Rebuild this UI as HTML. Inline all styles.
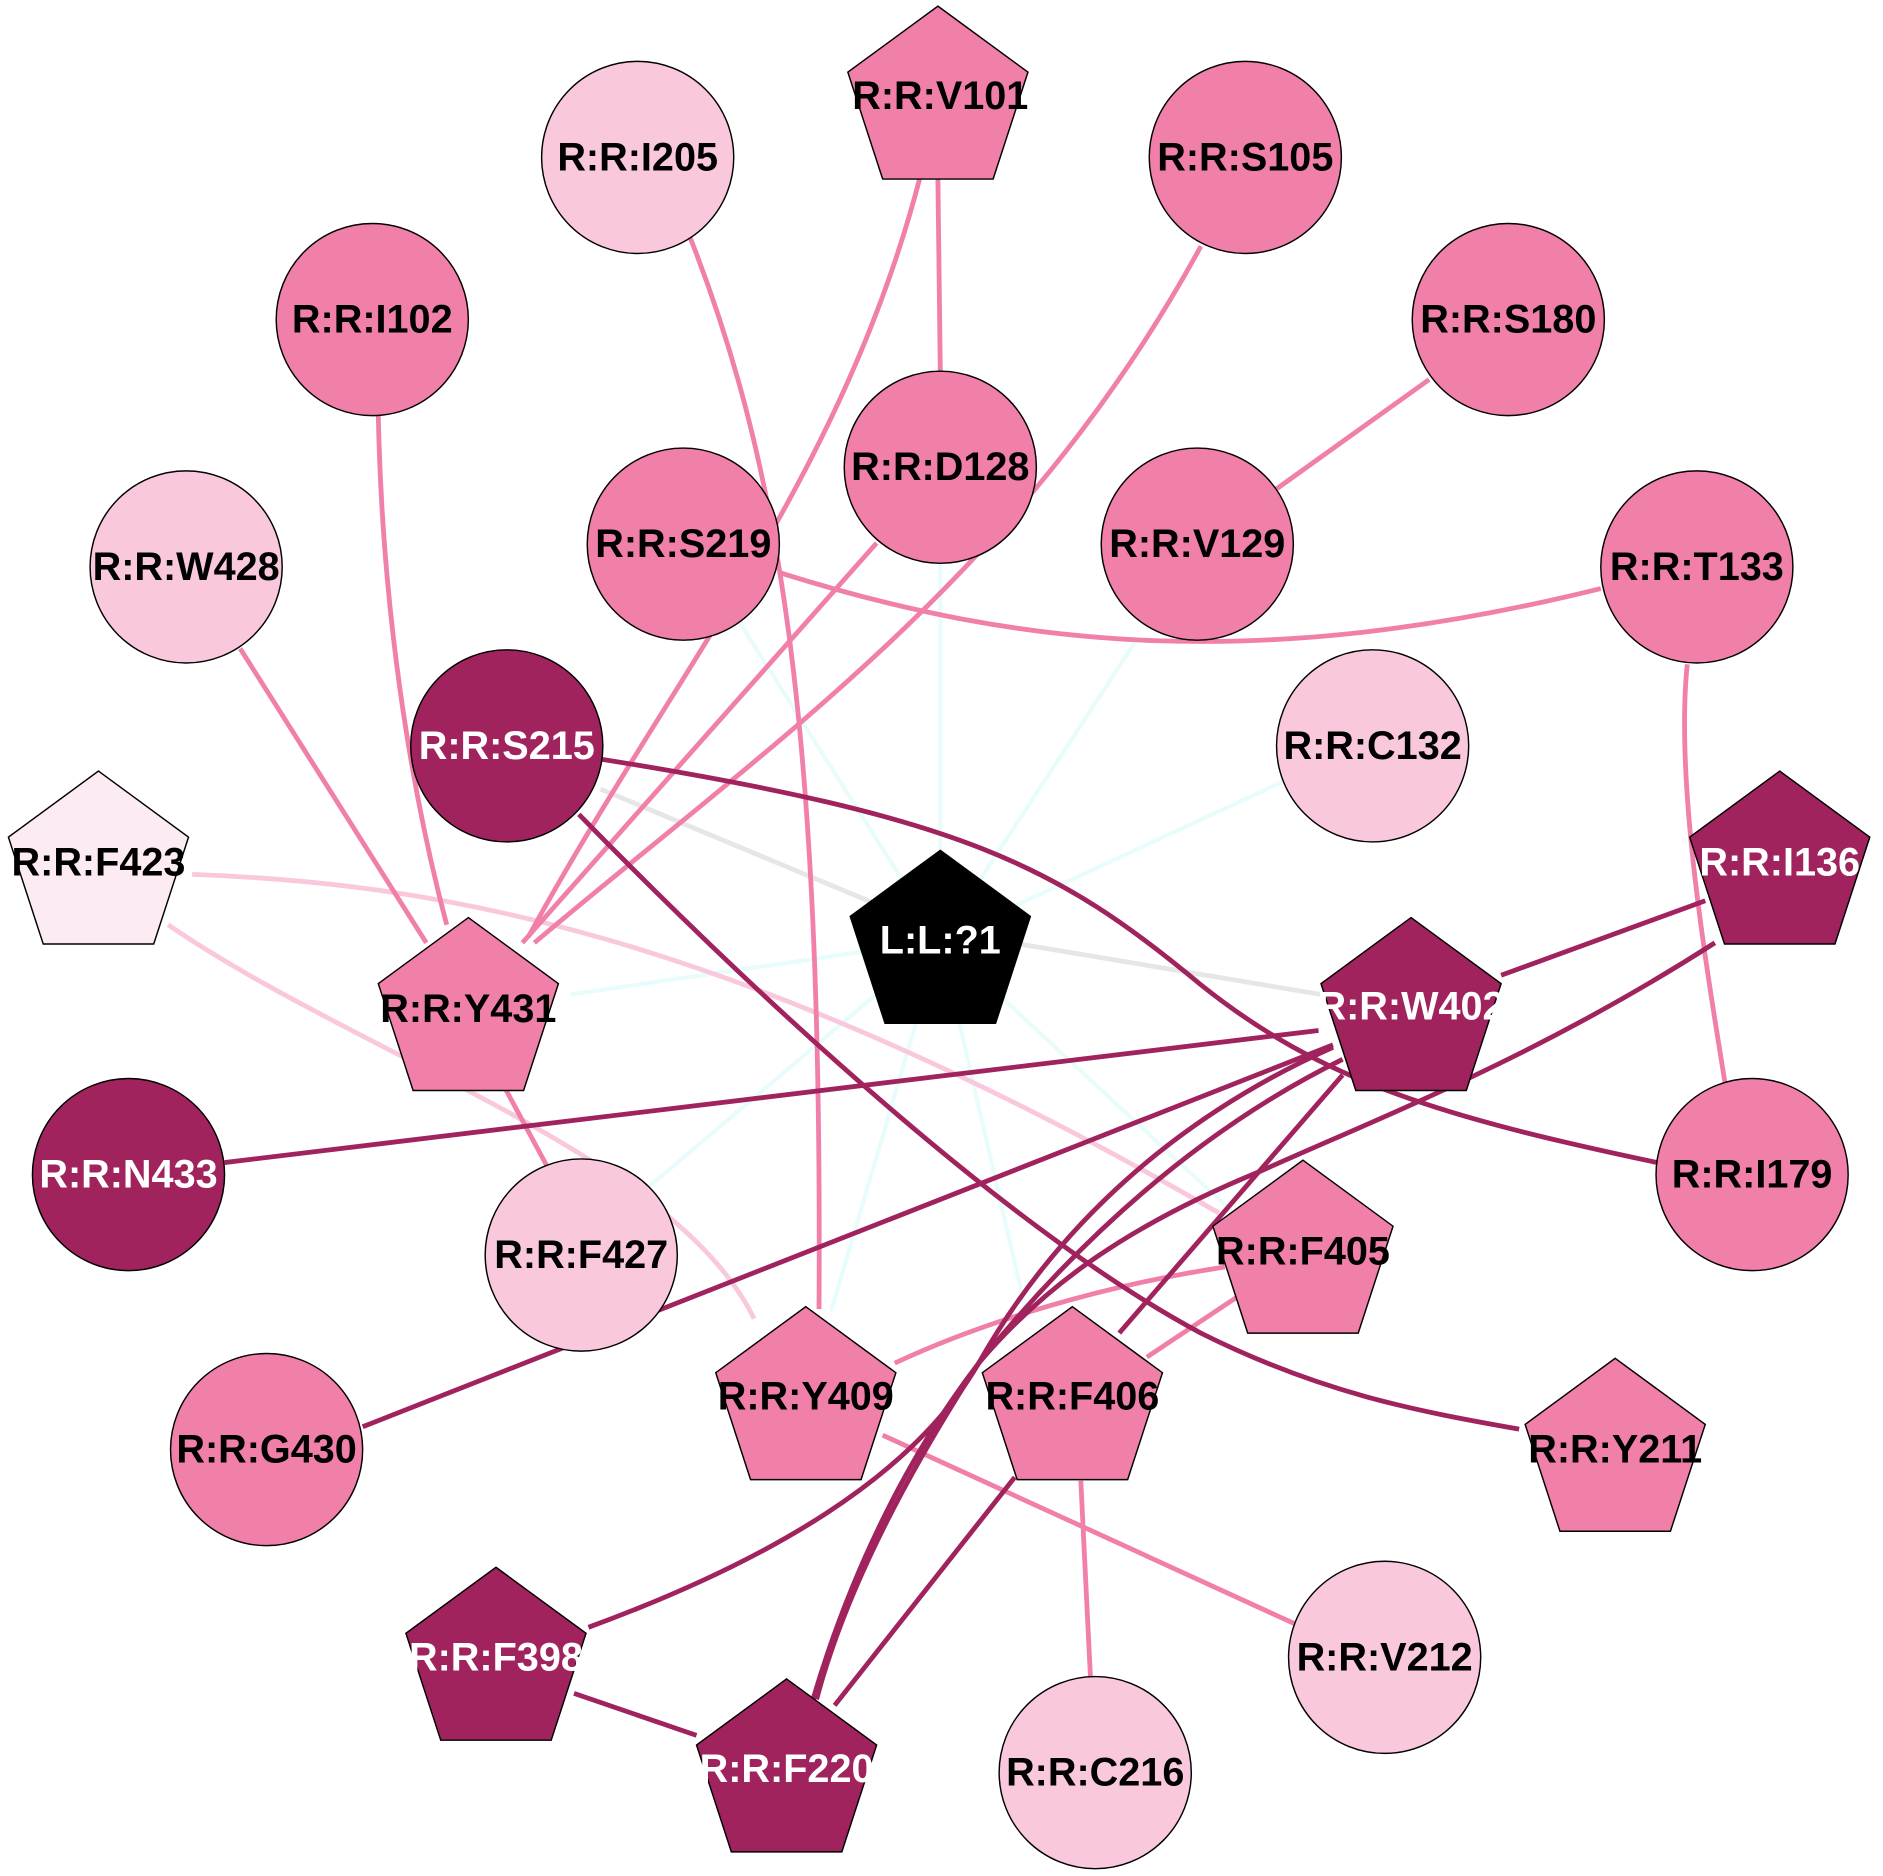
<!DOCTYPE html>
<html><head><meta charset="utf-8">
<style>
html,body{margin:0;padding:0;background:#fff;}
svg{display:block;}
text{font-family:"Liberation Sans",Arial,sans-serif;font-weight:bold;font-size:33px;text-anchor:middle;dominant-baseline:central;}
</style></head><body>
<svg width="1883" height="1876" viewBox="0 0 1568 1562" xmlns="http://www.w3.org/2000/svg">
<g fill="none" stroke-width="4">
<g stroke="#e8fcfc" stroke-width="3.5">
<line x1="783" y1="783" x2="783" y2="465"/>
<line x1="783" y1="783" x2="945" y2="535"/>
<line x1="783" y1="783" x2="1070" y2="650"/>
<line x1="783" y1="783" x2="475" y2="828"/>
<line x1="783" y1="783" x2="538" y2="990"/>
<line x1="783" y1="783" x2="692" y2="1092"/>
<line x1="783" y1="783" x2="855" y2="1095"/>
<line x1="783" y1="783" x2="1022" y2="1005"/>
<line x1="783" y1="783" x2="612" y2="512"/>
</g>
<path d="M500,657 L783,775 L1100,828" stroke="#e6e6e6"/>
<g stroke="#f9c8dc">
<path d="M160,728 C350,735 600,770 1015,1010"/>
<path d="M140,770 C300,880 560,960 628,1098"/>
</g>
<g stroke="#f07faa">
<line x1="781" y1="148" x2="783" y2="310"/>
<path d="M766,148 C700,400 560,560 440,780"/>
<path d="M566,176 C650,380 685,600 682,1090"/>
<path d="M1000,205 C850,480 640,620 445,785"/>
<line x1="730" y1="452" x2="435" y2="785"/>
<path d="M315,345 C318,500 340,650 372,770"/>
<line x1="200" y1="540" x2="355" y2="785"/>
<line x1="1190" y1="316" x2="1063" y2="407"/>
<path d="M650,477 C850,540 1050,560 1333,490"/>
<path d="M1405,553 C1395,650 1420,800 1437,905"/>
<line x1="420" y1="905" x2="455" y2="970"/>
<path d="M1020,1055 C920,1070 820,1100 745,1135"/>
<line x1="1030" y1="1080" x2="955" y2="1130"/>
<line x1="735" y1="1195" x2="1078" y2="1352"/>
<line x1="900" y1="1233" x2="908" y2="1396"/>
</g>
<g stroke="#a0235e">
<path d="M500,632 C800,680 880,720 1000,820 C1100,900 1200,930 1380,968"/>
<path d="M482,678 C650,850 850,1030 1000,1110 C1100,1160 1180,1175 1265,1190"/>
<line x1="1250" y1="812" x2="1420" y2="750"/>
<line x1="1098" y1="858" x2="187" y2="968"/>
<line x1="1110" y1="870" x2="302" y2="1188"/>
<path d="M1110,872 C980,930 880,1020 815,1135 C760,1230 640,1300 490,1355"/>
<path d="M1118,882 C1000,940 900,1030 815,1135 C750,1220 705,1320 677,1415"/>
<path d="M1428,785 C1280,880 1150,930 1050,975 C940,1020 870,1070 815,1135 C760,1220 705,1320 680,1415"/>
<line x1="1118" y1="895" x2="932" y2="1110"/>
<line x1="845" y1="1230" x2="695" y2="1420"/>
<line x1="478" y1="1410" x2="580" y2="1445"/>
</g>
</g>
<g stroke="#000" stroke-width="1.2">
<circle cx="531" cy="131" r="80" fill="#f9c8dc"/>
<circle cx="1037" cy="131" r="80" fill="#f07faa"/>
<circle cx="310" cy="266" r="80" fill="#f07faa"/>
<circle cx="1256" cy="266" r="80" fill="#f07faa"/>
<circle cx="783" cy="389" r="80" fill="#f07faa"/>
<circle cx="569" cy="453" r="80" fill="#f07faa"/>
<circle cx="997" cy="453" r="80" fill="#f07faa"/>
<circle cx="155" cy="472" r="80" fill="#f9c8dc"/>
<circle cx="1413" cy="472" r="80" fill="#f07faa"/>
<circle cx="422" cy="621" r="80" fill="#a0235e"/>
<circle cx="1143" cy="621" r="80" fill="#f9c8dc"/>
<circle cx="107" cy="978" r="80" fill="#a0235e"/>
<circle cx="1459" cy="978" r="80" fill="#f07faa"/>
<circle cx="484" cy="1045" r="80" fill="#f9c8dc"/>
<circle cx="222" cy="1207" r="80" fill="#f07faa"/>
<circle cx="1153" cy="1380" r="80" fill="#f9c8dc"/>
<circle cx="912" cy="1476" r="80" fill="#f9c8dc"/>
</g>
<g stroke="#000" stroke-width="1.2">
<polygon fill="#f07faa" points="781,5 856,60 827,149 735,149 706,60"/>
<polygon fill="#fcebf2" points="82,642 157,697 128,786 36,786 7,697"/>
<polygon fill="#f07faa" points="390,764 465,819 436,908 344,908 315,819"/>
<polygon fill="#000" points="783,708 858,763 829,852 737,852 708,763"/>
<polygon fill="#a0235e" points="1175,764 1250,819 1221,908 1129,908 1100,819"/>
<polygon fill="#a0235e" points="1482,642 1557,697 1528,786 1436,786 1407,697"/>
<polygon fill="#f07faa" points="1085,966 1160,1021 1131,1110 1039,1110 1010,1021"/>
<polygon fill="#f07faa" points="671,1088 746,1143 717,1232 625,1232 596,1143"/>
<polygon fill="#f07faa" points="893,1088 968,1143 939,1232 847,1232 818,1143"/>
<polygon fill="#f07faa" points="1345,1131 1420,1186 1391,1275 1299,1275 1270,1186"/>
<polygon fill="#a0235e" points="413,1305 488,1360 459,1449 367,1449 338,1360"/>
<polygon fill="#a0235e" points="655,1398 730,1453 701,1542 609,1542 580,1453"/>
</g>
<g fill="#000">
<text x="531" y="131">R:R:I205</text>
<text x="1037" y="131">R:R:S105</text>
<text x="310" y="266">R:R:I102</text>
<text x="1256" y="266">R:R:S180</text>
<text x="783" y="389">R:R:D128</text>
<text x="569" y="453">R:R:S219</text>
<text x="997" y="453">R:R:V129</text>
<text x="155" y="472">R:R:W428</text>
<text x="1413" y="472">R:R:T133</text>
<text x="1143" y="621">R:R:C132</text>
<text x="1459" y="978">R:R:I179</text>
<text x="484" y="1045">R:R:F427</text>
<text x="222" y="1207">R:R:G430</text>
<text x="1153" y="1380">R:R:V212</text>
<text x="912" y="1476">R:R:C216</text>
<text x="783" y="80">R:R:V101</text>
<text x="82" y="718">R:R:F423</text>
<text x="390" y="840">R:R:Y431</text>
<text x="1085" y="1042">R:R:F405</text>
<text x="671" y="1163">R:R:Y409</text>
<text x="893" y="1163">R:R:F406</text>
<text x="1345" y="1207">R:R:Y211</text>
</g>
<g fill="#fff">
<text x="422" y="621">R:R:S215</text>
<text x="107" y="978">R:R:N433</text>
<text x="783" y="783">L:L:?1</text>
<text x="1175" y="838">R:R:W402</text>
<text x="1482" y="718">R:R:I136</text>
<text x="413" y="1380">R:R:F398</text>
<text x="655" y="1473">R:R:F220</text>
</g>
</svg>
</body></html>
